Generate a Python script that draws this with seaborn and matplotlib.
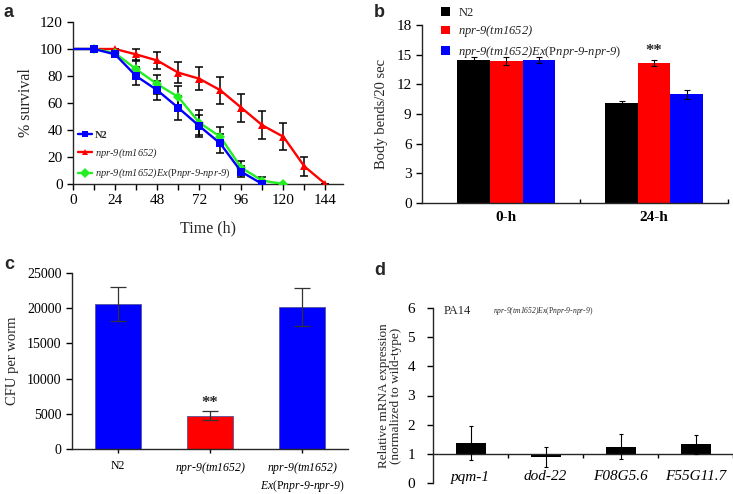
import numpy as np
import pandas as pd
import matplotlib
matplotlib.use("Agg")
import matplotlib.pyplot as plt
from matplotlib.lines import Line2D
from matplotlib.patches import Patch
import seaborn as sns

# ---------------- data ----------------
# panel a: survival curves
time_n2 = [0, 12, 24, 36, 48, 60, 72, 84, 96, 108]
surv_n2 = [100, 100, 96, 80, 69.5, 56.5, 43, 30, 9, 0]
err_n2 = [0, 0, 1.5, 7, 7, 9, 8, 7, 4, 0]

time_mut = [0, 12, 24, 36, 48, 60, 72, 84, 96, 108, 120, 132, 144]
surv_mut = [100, 100, 100, 96, 91.5, 82.5, 78, 69.5, 56.5, 43.5, 35, 13, 0]
err_mut = [0, 0, 0, 4, 6, 8, 8.6, 10, 10.5, 10.5, 10, 7, 0]

time_res = [0, 12, 24, 36, 48, 60, 72, 84, 96, 108, 120]
surv_res = [100, 100, 97, 85, 74, 64.5, 45.5, 35, 12, 2.5, 0]
err_res = [0, 0, 1, 6, 7, 8, 9, 7, 5, 3, 0]

strains = ["N2", "npr-9(tm1652)", "npr-9(tm1652)Ex(Pnpr-9-npr-9)"]

# panel b: body bends
b_times = ["0-h", "24-h"]
bends_n2 = [14.5, 10.1]
bends_mut = [14.4, 14.2]
bends_res = [14.5, 11.0]
bends_n2_err = [0.3, 0.2]
bends_mut_err = [0.4, 0.3]
bends_res_err = [0.3, 0.45]

# panel c: CFU
cfu = [20600, 4700, 20200]
cfu_err = [2400, 650, 2700]

# panel d: relative expression
genes = ["pqm-1", "dod-22", "F08G5.6", "F55G11.7"]
expr = [1.37, 0.88, 1.25, 1.33]
expr_err = [0.57, 0.34, 0.42, 0.32]

# ---------------- style ----------------
sns.set_theme(style="ticks")
plt.rcParams["font.family"] = ["Liberation Serif", "DejaVu Serif"]
plt.rcParams["mathtext.fontset"] = "custom"
plt.rcParams["mathtext.rm"] = "Liberation Serif:italic"
plt.rcParams["mathtext.it"] = "Liberation Serif:italic"
plt.rcParams["mathtext.sf"] = "Liberation Serif"
plt.rcParams["mathtext.bf"] = "Liberation Serif:bold"
plt.rcParams["axes.linewidth"] = 1.0
plt.rcParams["xtick.major.width"] = 1.0
plt.rcParams["ytick.major.width"] = 1.0

BLUE = "#0000ff"
RED = "#ff0000"
GREEN = "#22ee22"

MUT = r"$npr$-$9(tm1652)$"
RES = r"$npr$-$9(tm1652)Ex\mathsf{(P}npr$-$9$-$npr$-$9\mathsf{)}$"
RES2 = r"$npr$-$9(tm1652)$" + "\n" + r"$Ex\mathsf{(P}npr$-$9$-$npr$-$9\mathsf{)}$"

fig = plt.figure(figsize=(7.33, 4.94), dpi=100)

W, H = 733.0, 494.0
def axes_px(l, r, t, b):
    return fig.add_axes([l / W, 1 - b / H, (r - l) / W, (b - t) / H])

ax_a = axes_px(73, 343, 22, 184)
ax_b = axes_px(422, 728, 25, 203)
ax_c = axes_px(72, 348, 273, 449)
ax_d = axes_px(433, 733, 308, 483)

for ax in (ax_a, ax_b, ax_c, ax_d):
    sns.despine(ax=ax)

# ---------------- panel a ----------------
df_a = pd.concat([
    pd.DataFrame({"time": time_n2, "surv": surv_n2, "err": err_n2, "strain": strains[0]}),
    pd.DataFrame({"time": time_mut, "surv": surv_mut, "err": err_mut, "strain": strains[1]}),
    pd.DataFrame({"time": time_res, "surv": surv_res, "err": err_res, "strain": strains[2]}),
], ignore_index=True)

pal_a = {strains[0]: BLUE, strains[1]: RED, strains[2]: GREEN}
mk_a = {strains[0]: "s", strains[1]: "^", strains[2]: "D"}

for s in strains:
    sub = df_a[df_a["strain"] == s]
    sub_e = sub[sub["time"] > 0]
    ax_a.errorbar(sub_e["time"], sub_e["surv"], yerr=sub_e["err"], fmt="none",
                  ecolor="black", elinewidth=1.1, capsize=3, capthick=1.1, zorder=2)
for s in [strains[1], strains[2], strains[0]]:
    sub = df_a[df_a["strain"] == s]
    sns.lineplot(data=sub, x="time", y="surv", ax=ax_a, color=pal_a[s],
                 marker=mk_a[s], markersize=5.5, markeredgewidth=0, lw=1.7,
                 markevery=list(range(1, len(sub))), zorder=3, legend=False)

ax_a.set_xlim(0, 154)
ax_a.set_ylim(0, 120)
ax_a.set_xticks(range(0, 145, 24))
ax_a.set_xticks(range(0, 155, 12), minor=True)
ax_a.set_yticks(range(0, 121, 20))
ax_a.tick_params(axis="both", which="both", labelsize=11, length=4, direction="out", colors="black")
ax_a.tick_params(axis="x", which="minor", length=4)
ax_a.set_xlabel("Time (h)", fontsize=11.5, labelpad=9)
ax_a.set_ylabel("% survival", fontsize=11.5, labelpad=4)

h_a = [Line2D([0], [0], color=pal_a[s], marker=mk_a[s], markersize=5, lw=1.7,
              markeredgewidth=0) for s in strains]
leg_a = ax_a.legend(h_a, ["N2", MUT, RES], loc="lower left", bbox_to_anchor=(0.0, -0.01),
                    frameon=False, fontsize=7.5, handlelength=1.3, handletextpad=0.3,
                    labelspacing=0.65, borderaxespad=0.1)
leg_a.get_texts()[0].set_fontweight("bold")

# ---------------- panel b ----------------
df_b = pd.DataFrame({
    "time": b_times * 3,
    "bends": bends_n2 + bends_mut + bends_res,
    "err": bends_n2_err + bends_mut_err + bends_res_err,
    "strain": [strains[0]] * 2 + [strains[1]] * 2 + [strains[2]] * 2,
})
pal_b = {strains[0]: "black", strains[1]: RED, strains[2]: BLUE}
sns.barplot(data=df_b, x="time", y="bends", hue="strain", palette=pal_b, ax=ax_b,
            width=0.66, errorbar=None, saturation=1, linewidth=0, legend=False)
for cont, s in zip(ax_b.containers, strains):
    sub = df_b[df_b["strain"] == s]
    xs = [p.get_x() + p.get_width() / 2 for p in cont.patches]
    ax_b.errorbar(xs, sub["bends"], yerr=sub["err"], fmt="none", ecolor="black",
                  elinewidth=0.8, capsize=2, capthick=0.8, zorder=5)
red_bar = ax_b.containers[1].patches[1]
ax_b.text(red_bar.get_x() + red_bar.get_width() / 2, bends_mut[1] + bends_mut_err[1] + 0.05,
          "**", ha="center", va="bottom", fontsize=12, fontweight="bold")
ax_b.set_xlim(-0.57, 1.5)
ax_b.set_ylim(0, 18)
ax_b.set_yticks(range(0, 19, 3))
ax_b.set_xticks([0.5, 1.5], minor=True)
ax_b.tick_params(axis="y", labelsize=11, length=4, direction="out", colors="black")
ax_b.tick_params(axis="x", which="major", length=0, labelsize=11, pad=6, colors="black")
ax_b.tick_params(axis="x", which="minor", length=3, direction="in", colors="black")
for t in ax_b.get_xticklabels():
    t.set_fontweight("bold")
ax_b.set_xlabel("")
ax_b.set_ylabel("Body bends/20 sec", fontsize=10.5, labelpad=6)

h_b = [Patch(facecolor=pal_b[s], edgecolor="none") for s in strains]
fig.legend(h_b, ["N2", MUT, RES], loc="upper left", bbox_to_anchor=(436 / W, 1 - 2 / H),
           frameon=False, fontsize=9, handlelength=0.7, handleheight=0.7,
           handletextpad=0.7, labelspacing=0.35, borderaxespad=0)

# ---------------- panel c ----------------
c_labels = ["N2", MUT, RES2]
df_c = pd.DataFrame({"strain": c_labels, "cfu": cfu, "err": cfu_err})
sns.barplot(data=df_c, x="strain", y="cfu", hue="strain", palette=[BLUE, RED, BLUE], ax=ax_c,
            width=0.5, errorbar=None, saturation=1, linewidth=0.6, edgecolor="#555599",
            legend=False)
xs_c = [p.get_x() + p.get_width() / 2 for p in ax_c.patches]
ax_c.errorbar(xs_c, df_c["cfu"], yerr=df_c["err"], fmt="none", ecolor="#333333",
              elinewidth=0.9, capsize=6, capthick=0.9, zorder=5)
ax_c.text(xs_c[1], cfu[1] + cfu_err[1] + 50, "**", ha="center", va="bottom",
          fontsize=12, fontweight="bold")
ax_c.set_ylim(0, 25000)
ax_c.set_xlim(-0.5, 2.5)
ax_c.set_yticks(range(0, 25001, 5000))
ax_c.tick_params(axis="y", labelsize=10, length=4, direction="out", colors="black")
ax_c.tick_params(axis="x", labelsize=8.5, length=3, direction="out", colors="black", pad=5)
ax_c.set_xlabel("")
ax_c.set_ylabel("CFU per worm", fontsize=10.5, labelpad=6)

# ---------------- panel d ----------------
df_d = pd.DataFrame({"gene": genes, "expr": expr, "err": expr_err})
df_d["delta"] = df_d["expr"] - 1
sns.barplot(data=df_d, x="gene", y="delta", ax=ax_d, color="black", width=0.4,
            errorbar=None, saturation=1, linewidth=0, bottom=1)
xs_d = [p.get_x() + p.get_width() / 2 for p in ax_d.patches]
ax_d.errorbar(xs_d, df_d["expr"], yerr=df_d["err"], fmt="none", ecolor="black",
              elinewidth=0.8, capsize=1.5, capthick=0.8, zorder=5)
ax_d.set_ylim(0, 6)
ax_d.set_xlim(-0.5, 3.5)
ax_d.set_yticks(range(0, 7))
ax_d.spines["bottom"].set_position(("data", 1))
ax_d.set_xticks([0.5, 1.5, 2.5, 3.5], minor=True)
ax_d.tick_params(axis="y", labelsize=11, length=4, direction="out", colors="black", pad=9)
ax_d.tick_params(axis="x", which="major", length=0, labelsize=11, pad=12, colors="black")
ax_d.tick_params(axis="x", which="minor", length=3, direction="out", colors="black")
for t in ax_d.get_xticklabels():
    t.set_fontstyle("italic")
ax_d.set_xlabel("")
ax_d.set_ylabel("Relative mRNA expression\n(normalized to wild-type)", fontsize=9.5,
                labelpad=4, linespacing=1.0)
ax_d.text(0.037, 0.985, "PA14", transform=ax_d.transAxes, fontsize=9, va="center")
ax_d.text(0.2, 0.985, RES, transform=ax_d.transAxes, fontsize=5.5, va="center")

# ---------------- panel letters ----------------
for lab, x, y in [("a", 4, 4), ("b", 374, 4), ("c", 4, 256), ("d", 374, 262)]:
    fig.text(x / W, 1 - y / H, lab, fontsize=13, fontweight="bold", va="top", ha="left",
             family=["Liberation Sans", "DejaVu Sans"])

fig.savefig("out.png", dpi=100)
